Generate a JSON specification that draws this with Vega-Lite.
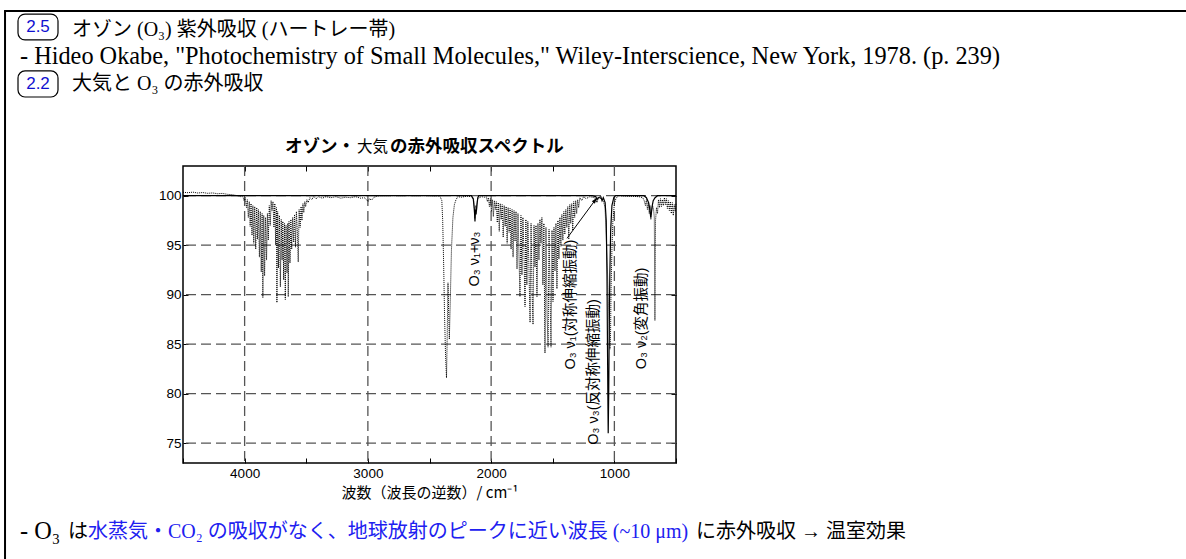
{
  "$schema": "https://vega.github.io/schema/vega-lite/v6.json",
  "width": 493,
  "height": 297,
  "autosize": "none",
  "padding": {"left": 183, "top": 166, "right": 510, "bottom": 96},
  "background": "white",
  "config": {
    "view": {"stroke": "black", "strokeWidth": 1.5},
    "axis": {
      "domain": false,
      "grid": false,
      "labelColor": "black",
      "tickColor": "black",
      "labelFont": "Liberation Sans",
      "labelFontSize": 13.5
    }
  },
  "datasets": {
    "hgrid": [{"v": 75}, {"v": 80}, {"v": 85}, {"v": 90}, {"v": 95}, {"v": 100}],
    "vgrid": [{"w": 4000}, {"w": 3000}, {"w": 2000}, {"w": 1000}],
    "o3": [
      {"w": 4500, "t": 100}, {"w": 2160, "t": 100}, {"w": 2145, "t": 99.7}, {"w": 2136, "t": 98.6},
      {"w": 2131, "t": 97.4}, {"w": 2127, "t": 98.6}, {"w": 2122, "t": 98.1}, {"w": 2116, "t": 99.0},
      {"w": 2108, "t": 99.8}, {"w": 2100, "t": 100}, {"w": 1180, "t": 100}, {"w": 1150, "t": 99.9},
      {"w": 1141, "t": 99.6}, {"w": 1130, "t": 99.8}, {"w": 1110, "t": 99.9}, {"w": 1100, "t": 99.5},
      {"w": 1090, "t": 99.8}, {"w": 1075, "t": 99.3}, {"w": 1066, "t": 97.5}, {"w": 1060, "t": 92},
      {"w": 1056, "t": 85}, {"w": 1052, "t": 78.5}, {"w": 1050, "t": 76}, {"w": 1046, "t": 80},
      {"w": 1042, "t": 86}, {"w": 1037, "t": 92}, {"w": 1030, "t": 96.5}, {"w": 1020, "t": 99},
      {"w": 1005, "t": 99.8}, {"w": 990, "t": 100}, {"w": 760, "t": 100}, {"w": 740, "t": 99.8},
      {"w": 722, "t": 99.3}, {"w": 712, "t": 98.6}, {"w": 705, "t": 97.8}, {"w": 700, "t": 98.2},
      {"w": 694, "t": 98.9}, {"w": 685, "t": 99.5}, {"w": 670, "t": 99.8}, {"w": 650, "t": 100},
      {"w": 500, "t": 100}
    ],
    "air": [
      {"w": 4500, "t": 100.35}, {"w": 4460, "t": 100.3}, {"w": 4420, "t": 100.36}, {"w": 4380, "t": 100.27},
      {"w": 4340, "t": 100.32}, {"w": 4300, "t": 100.24}, {"w": 4260, "t": 100.28}, {"w": 4220, "t": 100.2},
      {"w": 4180, "t": 100.23}, {"w": 4140, "t": 100.14}, {"w": 4100, "t": 100.1}, {"w": 4060, "t": 100.0},
      {"w": 4030, "t": 99.9}, {"w": 4015, "t": 99.95}, {"w": 4005, "t": 99.5}, {"w": 3995, "t": 99.8},
      {"w": 3985, "t": 98.8}, {"w": 3978, "t": 99.6}, {"w": 3970, "t": 97.8}, {"w": 3962, "t": 99.4},
      {"w": 3955, "t": 96.9}, {"w": 3948, "t": 99.2}, {"w": 3940, "t": 96.0}, {"w": 3933, "t": 99.0},
      {"w": 3926, "t": 95.2}, {"w": 3918, "t": 98.9}, {"w": 3910, "t": 94.6}, {"w": 3902, "t": 98.8},
      {"w": 3895, "t": 95.6}, {"w": 3888, "t": 98.6}, {"w": 3880, "t": 93.8}, {"w": 3873, "t": 98.4},
      {"w": 3865, "t": 92.3}, {"w": 3858, "t": 98.2}, {"w": 3852, "t": 89.7}, {"w": 3845, "t": 98.0},
      {"w": 3838, "t": 91.9}, {"w": 3830, "t": 97.8}, {"w": 3822, "t": 93.5}, {"w": 3815, "t": 98.2},
      {"w": 3808, "t": 95.5}, {"w": 3800, "t": 99.0}, {"w": 3792, "t": 97.0}, {"w": 3785, "t": 99.5},
      {"w": 3778, "t": 98.5}, {"w": 3770, "t": 99.4}, {"w": 3762, "t": 96.8}, {"w": 3755, "t": 99.2},
      {"w": 3748, "t": 95.0}, {"w": 3742, "t": 98.8}, {"w": 3738, "t": 89.2}, {"w": 3732, "t": 98.4},
      {"w": 3725, "t": 92.7}, {"w": 3718, "t": 98.0}, {"w": 3710, "t": 90.8}, {"w": 3703, "t": 97.6},
      {"w": 3696, "t": 93.5}, {"w": 3690, "t": 97.4}, {"w": 3683, "t": 91.5}, {"w": 3676, "t": 97.2},
      {"w": 3670, "t": 89.5}, {"w": 3664, "t": 97.0}, {"w": 3656, "t": 92.2}, {"w": 3650, "t": 97.2},
      {"w": 3646, "t": 89.8}, {"w": 3640, "t": 97.4}, {"w": 3632, "t": 93.2}, {"w": 3625, "t": 97.6},
      {"w": 3618, "t": 94.6}, {"w": 3610, "t": 97.8}, {"w": 3602, "t": 95.3}, {"w": 3595, "t": 98.1},
      {"w": 3587, "t": 94.8}, {"w": 3580, "t": 98.4}, {"w": 3572, "t": 96.4}, {"w": 3565, "t": 93.3},
      {"w": 3558, "t": 98.6}, {"w": 3550, "t": 96.8}, {"w": 3542, "t": 98.9}, {"w": 3535, "t": 97.5},
      {"w": 3527, "t": 99.2}, {"w": 3520, "t": 98.3}, {"w": 3512, "t": 99.4}, {"w": 3505, "t": 98.9},
      {"w": 3495, "t": 99.6}, {"w": 3485, "t": 99.3}, {"w": 3470, "t": 99.8}, {"w": 3455, "t": 99.6},
      {"w": 3440, "t": 99.9}, {"w": 3420, "t": 99.7}, {"w": 3400, "t": 99.9}, {"w": 3370, "t": 99.75},
      {"w": 3340, "t": 99.9}, {"w": 3300, "t": 99.8}, {"w": 3260, "t": 99.9}, {"w": 3220, "t": 99.75},
      {"w": 3180, "t": 99.85}, {"w": 3140, "t": 99.8}, {"w": 3100, "t": 99.9}, {"w": 3060, "t": 99.75},
      {"w": 3030, "t": 99.8}, {"w": 3010, "t": 99.6}, {"w": 2998, "t": 99.4}, {"w": 2988, "t": 99.7},
      {"w": 2970, "t": 99.55}, {"w": 2950, "t": 99.85}, {"w": 2920, "t": 99.95}, {"w": 2880, "t": 100},
      {"w": 2700, "t": 100}, {"w": 2500, "t": 100}, {"w": 2415, "t": 99.95}, {"w": 2400, "t": 99.5},
      {"w": 2393, "t": 97.5}, {"w": 2385, "t": 93}, {"w": 2378, "t": 88}, {"w": 2370, "t": 84},
      {"w": 2362, "t": 81.6}, {"w": 2356, "t": 86}, {"w": 2350, "t": 91.2}, {"w": 2345, "t": 88.5},
      {"w": 2339, "t": 85.5}, {"w": 2332, "t": 89}, {"w": 2322, "t": 94.5}, {"w": 2310, "t": 97.8},
      {"w": 2298, "t": 99.1}, {"w": 2285, "t": 99.6}, {"w": 2270, "t": 99.9}, {"w": 2240, "t": 99.85},
      {"w": 2200, "t": 99.95}, {"w": 2160, "t": 99.9}, {"w": 2142, "t": 99.6}, {"w": 2132, "t": 97.7},
      {"w": 2125, "t": 99.0}, {"w": 2118, "t": 98.5}, {"w": 2110, "t": 99.7}, {"w": 2080, "t": 99.9},
      {"w": 2050, "t": 99.85}, {"w": 2040, "t": 99.9}, {"w": 2030, "t": 99.4}, {"w": 2022, "t": 99.8},
      {"w": 2014, "t": 98.9}, {"w": 2006, "t": 99.7}, {"w": 1998, "t": 98.4}, {"w": 1990, "t": 99.6},
      {"w": 1982, "t": 97.9}, {"w": 1974, "t": 99.5}, {"w": 1966, "t": 98.6}, {"w": 1958, "t": 99.4},
      {"w": 1950, "t": 97.3}, {"w": 1942, "t": 99.3}, {"w": 1934, "t": 96.4}, {"w": 1926, "t": 99.2},
      {"w": 1918, "t": 97.6}, {"w": 1910, "t": 99.1}, {"w": 1902, "t": 95.8}, {"w": 1894, "t": 99.0},
      {"w": 1886, "t": 96.9}, {"w": 1878, "t": 98.9}, {"w": 1870, "t": 95.2}, {"w": 1862, "t": 98.8},
      {"w": 1854, "t": 96.3}, {"w": 1846, "t": 98.7}, {"w": 1838, "t": 94.6}, {"w": 1830, "t": 98.6},
      {"w": 1822, "t": 93.8}, {"w": 1814, "t": 98.5}, {"w": 1806, "t": 95.4}, {"w": 1798, "t": 98.4},
      {"w": 1790, "t": 92.6}, {"w": 1782, "t": 98.2}, {"w": 1774, "t": 94.0}, {"w": 1766, "t": 89.8},
      {"w": 1758, "t": 98.0}, {"w": 1750, "t": 92.0}, {"w": 1742, "t": 97.8}, {"w": 1734, "t": 94.5},
      {"w": 1725, "t": 88.8}, {"w": 1718, "t": 97.6}, {"w": 1710, "t": 91.0}, {"w": 1702, "t": 97.4},
      {"w": 1694, "t": 93.2}, {"w": 1684, "t": 87.2}, {"w": 1676, "t": 97.2}, {"w": 1668, "t": 90.5},
      {"w": 1660, "t": 87.0}, {"w": 1652, "t": 97.0}, {"w": 1644, "t": 92.8}, {"w": 1636, "t": 97.0},
      {"w": 1628, "t": 89.8}, {"w": 1620, "t": 97.2}, {"w": 1612, "t": 93.5}, {"w": 1604, "t": 97.6},
      {"w": 1596, "t": 95.2}, {"w": 1588, "t": 97.8}, {"w": 1580, "t": 91.0}, {"w": 1572, "t": 97.2},
      {"w": 1563, "t": 84.1}, {"w": 1555, "t": 96.8}, {"w": 1546, "t": 88.0}, {"w": 1538, "t": 84.7},
      {"w": 1530, "t": 96.6}, {"w": 1522, "t": 90.2}, {"w": 1514, "t": 84.7}, {"w": 1506, "t": 96.5},
      {"w": 1498, "t": 89.3}, {"w": 1490, "t": 96.8}, {"w": 1482, "t": 92.4}, {"w": 1474, "t": 97.2},
      {"w": 1466, "t": 90.6}, {"w": 1458, "t": 97.5}, {"w": 1450, "t": 93.6}, {"w": 1442, "t": 97.8},
      {"w": 1434, "t": 94.9}, {"w": 1426, "t": 98.1}, {"w": 1418, "t": 95.5}, {"w": 1410, "t": 98.4},
      {"w": 1402, "t": 96.1}, {"w": 1394, "t": 98.6}, {"w": 1386, "t": 96.8}, {"w": 1378, "t": 98.9},
      {"w": 1370, "t": 95.6}, {"w": 1362, "t": 99.1}, {"w": 1354, "t": 97.2}, {"w": 1346, "t": 99.2},
      {"w": 1338, "t": 96.5}, {"w": 1330, "t": 99.4}, {"w": 1322, "t": 97.8}, {"w": 1314, "t": 99.5},
      {"w": 1306, "t": 98.2}, {"w": 1298, "t": 99.6}, {"w": 1290, "t": 98.8}, {"w": 1280, "t": 99.8},
      {"w": 1265, "t": 99.5}, {"w": 1250, "t": 99.9}, {"w": 1230, "t": 99.7}, {"w": 1200, "t": 99.9},
      {"w": 1160, "t": 99.8}, {"w": 1148, "t": 99.5}, {"w": 1141, "t": 99.3}, {"w": 1134, "t": 99.6},
      {"w": 1120, "t": 99.8}, {"w": 1100, "t": 99.6}, {"w": 1088, "t": 99.4}, {"w": 1076, "t": 98.8},
      {"w": 1066, "t": 96}, {"w": 1055, "t": 92}, {"w": 1045, "t": 88}, {"w": 1036, "t": 84.5},
      {"w": 1031, "t": 86}, {"w": 1027, "t": 90.5}, {"w": 1020, "t": 94.5}, {"w": 1012, "t": 97.5},
      {"w": 1000, "t": 99.2}, {"w": 985, "t": 99.8}, {"w": 960, "t": 100}, {"w": 880, "t": 99.95},
      {"w": 800, "t": 99.9}, {"w": 770, "t": 99.8}, {"w": 758, "t": 99.5}, {"w": 748, "t": 99.0},
      {"w": 740, "t": 99.6}, {"w": 732, "t": 98.6}, {"w": 725, "t": 99.3}, {"w": 717, "t": 98.2},
      {"w": 710, "t": 99.0}, {"w": 704, "t": 97.6}, {"w": 698, "t": 98.5}, {"w": 690, "t": 99.0},
      {"w": 682, "t": 98.6}, {"w": 676, "t": 97.8}, {"w": 671, "t": 87.4}, {"w": 666, "t": 97.5},
      {"w": 658, "t": 98.8}, {"w": 650, "t": 98.2}, {"w": 642, "t": 99.6}, {"w": 634, "t": 98.8},
      {"w": 626, "t": 99.7}, {"w": 618, "t": 98.9}, {"w": 610, "t": 99.6}, {"w": 602, "t": 99.0},
      {"w": 594, "t": 99.8}, {"w": 586, "t": 99.1}, {"w": 578, "t": 99.7}, {"w": 570, "t": 98.7},
      {"w": 562, "t": 99.5}, {"w": 554, "t": 98.5}, {"w": 546, "t": 99.4}, {"w": 538, "t": 98.2},
      {"w": 530, "t": 99.3}, {"w": 522, "t": 98.0}, {"w": 514, "t": 99.1}, {"w": 506, "t": 98.4},
      {"w": 500, "t": 99.2}
    ],
    "labels": [
      {"w": 2131, "t": 93.6, "label": "O₃ ν₁+ν₃"},
      {"w": 1352, "t": 89.0, "label": "O₃ ν₁(対称伸縮振動)"},
      {"w": 1165, "t": 82.2, "label": "O₃ ν₃(反対称伸縮振動)"},
      {"w": 776, "t": 87.6, "label": "O₃ ν₂(変角振動)"}
    ],
    "arrow": [{"w": 1384, "t": 95.7, "w2": 1141, "t2": 99.8}],
    "titleBold": [
      {"x": 3672.4, "y": 104.92, "label": "オゾン・"},
      {"x": 2820.5, "y": 104.92, "label": "の赤外吸収スペクトル"}
    ],
    "titleRegular": [
      {"x": 3088.2, "y": 104.92, "label": "大気"}
    ],
    "frameTop": [{"x1": 5952, "x2": -3700, "y": 118.66}],
    "frameLeft": [{"x": 5944, "y1": 118.66, "y2": 62.5}],
    "badges": [
      {"b": "2.5", "x1": 5838.7, "x2": 5514.2, "y1": 118.35, "y2": 115.73, "xc": 5676.5, "yc": 117.04},
      {"b": "2.2", "x1": 5838.7, "x2": 5514.2, "y1": 112.6, "y2": 109.97, "xc": 5676.5, "yc": 111.28}
    ],
    "headText": [
      {"x": 5400.6, "y": 116.74, "label": "オゾン (O₃) 紫外吸収 (ハートレー帯)"},
      {"x": 5400.6, "y": 111.28, "label": "大気と O₃ の赤外吸収"},
      {"x": 5433.1, "y": 66.03, "label": "は"},
      {"x": 337.7, "y": 66.03, "label": "に赤外吸収 → 温室効果"}
    ],
    "citation": [
      {"x": 5822.5, "y": 114.01, "label": "- Hideo Okabe, \"Photochemistry of Small Molecules,\" Wiley-Interscience, New York, 1978. (p. 239)"},
      {"x": 5822.5, "y": 66.03, "label": "- O₃"}
    ],
    "blueText": [
      {"x": 5270.8, "y": 66.03, "label": "水蒸気・CO₂ の吸収がなく、地球放射のピークに近い波長 (~10 μm)"}
    ]
  },
  "layer": [
    {
      "data": {"name": "hgrid"},
      "mark": {"type": "rule", "color": "#555555", "strokeWidth": 1.3, "strokeDash": [10, 5]},
      "encoding": {
        "y": {
          "field": "v", "type": "quantitative",
          "scale": {"domain": [73, 103], "nice": false, "zero": false},
          "axis": {"orient": "left", "title": null, "values": [75, 80, 85, 90, 95, 100], "tickSize": -5, "labelPadding": 7}
        }
      }
    },
    {
      "data": {"name": "vgrid"},
      "mark": {"type": "rule", "color": "#555555", "strokeWidth": 1.3, "strokeDash": [10, 5]},
      "encoding": {
        "x": {
          "field": "w", "type": "quantitative",
          "scale": {"domain": [4500, 500], "nice": false, "zero": false},
          "axis": {
            "orient": "bottom",
            "title": "波数（波長の逆数）/ cm⁻¹",
            "titleFont": "Noto Sans CJK JP",
            "titleFontSize": 15,
            "titleFontWeight": "normal",
            "titleColor": "black",
            "titlePadding": 6,
            "values": [4500, 4000, 3500, 3000, 2500, 2000, 1500, 1000, 500],
            "labelExpr": "datum.value % 1000 === 0 ? format(datum.value, 'd') : ''",
            "tickSize": -5,
            "labelPadding": 8
          }
        }
      }
    },
    {
      "data": {"name": "air"},
      "mark": {"type": "line", "color": "black", "strokeWidth": 1, "strokeDash": [1, 1]},
      "encoding": {
        "x": {"field": "w", "type": "quantitative", "axis": null},
        "y": {"field": "t", "type": "quantitative", "axis": null}
      }
    },
    {
      "data": {"name": "o3"},
      "mark": {"type": "line", "color": "black", "strokeWidth": 1.2},
      "encoding": {
        "x": {
          "field": "w", "type": "quantitative",
          "axis": {"orient": "top", "title": null, "labels": false, "values": [4000, 3500, 3000, 2500, 2000, 1500, 1000], "tickSize": -5}
        },
        "y": {
          "field": "t", "type": "quantitative",
          "axis": {"orient": "right", "title": null, "labels": false, "values": [75, 80, 85, 90, 95, 100], "tickSize": -5}
        }
      }
    },
    {
      "data": {"name": "arrow"},
      "mark": {"type": "rule", "color": "black", "strokeWidth": 1},
      "encoding": {
        "x": {"field": "w", "type": "quantitative", "axis": null},
        "y": {"field": "t", "type": "quantitative", "axis": null},
        "x2": {"field": "w2"},
        "y2": {"field": "t2"}
      }
    },
    {
      "data": {"name": "arrow"},
      "mark": {"type": "point", "shape": "M0,0L-0.7,2.2L0.7,2.2Z", "filled": true, "color": "black", "size": 30, "angle": 37, "opacity": 1},
      "encoding": {
        "x": {"field": "w2", "type": "quantitative", "axis": null},
        "y": {"field": "t2", "type": "quantitative", "axis": null}
      }
    },
    {
      "data": {"name": "labels"},
      "mark": {"type": "text", "angle": 270, "align": "center", "baseline": "middle", "font": "Liberation Sans, Noto Sans CJK JP", "fontSize": 14.5, "color": "black"},
      "encoding": {
        "x": {"field": "w", "type": "quantitative", "axis": null},
        "y": {"field": "t", "type": "quantitative", "axis": null},
        "text": {"field": "label"}
      }
    },
    {
      "data": {"name": "titleBold"},
      "mark": {"type": "text", "align": "left", "baseline": "middle", "font": "Noto Sans CJK JP", "fontSize": 17.5, "fontWeight": "bold", "color": "black"},
      "encoding": {
        "x": {"field": "x", "type": "quantitative", "axis": null},
        "y": {"field": "y", "type": "quantitative", "axis": null},
        "text": {"field": "label"}
      }
    },
    {
      "data": {"name": "titleRegular"},
      "mark": {"type": "text", "align": "left", "baseline": "middle", "font": "Noto Sans CJK JP", "fontSize": 15.5, "color": "black"},
      "encoding": {
        "x": {"field": "x", "type": "quantitative", "axis": null},
        "y": {"field": "y", "type": "quantitative", "axis": null},
        "text": {"field": "label"}
      }
    },
    {
      "data": {"name": "frameTop"},
      "mark": {"type": "rule", "color": "black", "strokeWidth": 2},
      "encoding": {
        "x": {"field": "x1", "type": "quantitative", "axis": null},
        "x2": {"field": "x2"},
        "y": {"field": "y", "type": "quantitative", "axis": null}
      }
    },
    {
      "data": {"name": "frameLeft"},
      "mark": {"type": "rule", "color": "black", "strokeWidth": 2},
      "encoding": {
        "x": {"field": "x", "type": "quantitative", "axis": null},
        "y": {"field": "y1", "type": "quantitative", "axis": null},
        "y2": {"field": "y2"}
      }
    },
    {
      "data": {"name": "badges"},
      "mark": {"type": "rect", "fill": "transparent", "stroke": "black", "strokeWidth": 1.2, "cornerRadius": 7},
      "encoding": {
        "x": {"field": "x1", "type": "quantitative", "axis": null},
        "x2": {"field": "x2"},
        "y": {"field": "y1", "type": "quantitative", "axis": null},
        "y2": {"field": "y2"}
      }
    },
    {
      "data": {"name": "badges"},
      "mark": {"type": "text", "align": "center", "baseline": "middle", "font": "Liberation Sans", "fontSize": 17, "color": "#1010d0"},
      "encoding": {
        "x": {"field": "xc", "type": "quantitative", "axis": null},
        "y": {"field": "yc", "type": "quantitative", "axis": null},
        "text": {"field": "b"}
      }
    },
    {
      "data": {"name": "headText"},
      "mark": {"type": "text", "align": "left", "baseline": "middle", "font": "Liberation Serif, Noto Sans CJK JP", "fontSize": 20, "color": "black"},
      "encoding": {
        "x": {"field": "x", "type": "quantitative", "axis": null},
        "y": {"field": "y", "type": "quantitative", "axis": null},
        "text": {"field": "label"}
      }
    },
    {
      "data": {"name": "citation"},
      "mark": {"type": "text", "align": "left", "baseline": "middle", "font": "Liberation Serif", "fontSize": 24.3, "color": "black"},
      "encoding": {
        "x": {"field": "x", "type": "quantitative", "axis": null},
        "y": {"field": "y", "type": "quantitative", "axis": null},
        "text": {"field": "label"}
      }
    },
    {
      "data": {"name": "blueText"},
      "mark": {"type": "text", "align": "left", "baseline": "middle", "font": "Liberation Serif, Noto Sans CJK JP", "fontSize": 20, "color": "#2020f0"},
      "encoding": {
        "x": {"field": "x", "type": "quantitative", "axis": null},
        "y": {"field": "y", "type": "quantitative", "axis": null},
        "text": {"field": "label"}
      }
    }
  ],
  "resolve": {"axis": {"x": "independent", "y": "independent"}}
}
